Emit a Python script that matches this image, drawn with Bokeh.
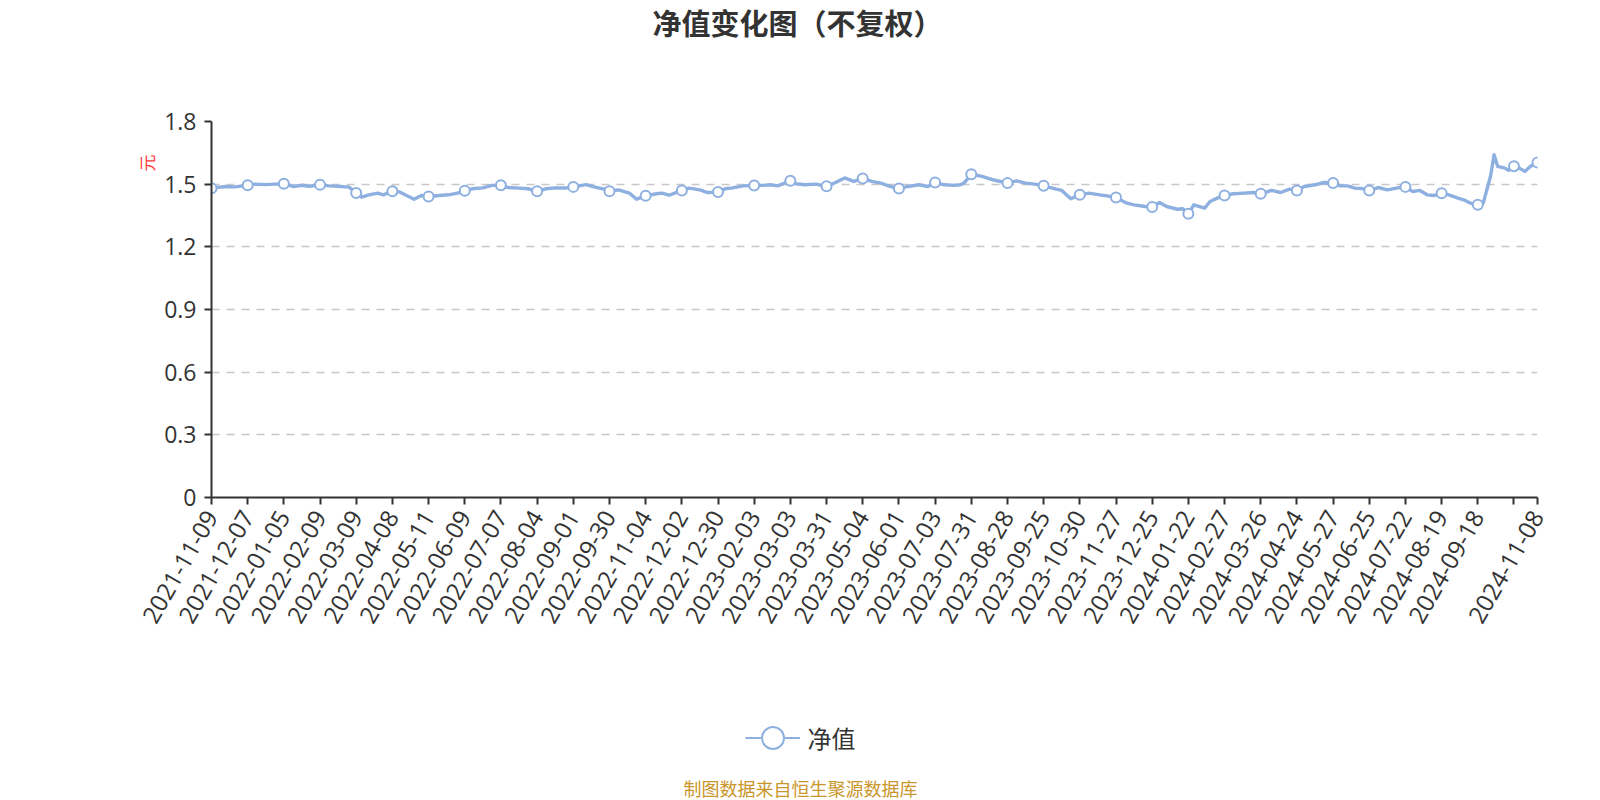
from math import pi
from bokeh.plotting import figure
from bokeh.layouts import column
from bokeh.models import (Range1d, FixedTicker, Label, Legend, LegendItem, Title,
                          CustomJSTickFormatter)
from bokeh.embed import file_html
from bokeh.resources import INLINE

# ---------------- data ----------------
title_text = "净值变化图（不复权）"
series_name = "净值"
unit_name = "元"
source_note = "制图数据来自恒生聚源数据库"

# trading-day index of each sampled point (0 = 2021-11-09, 733 = 2024-11-08)
day_index = [
    0, 8, 13, 20, 24, 30, 35, 40, 45, 50, 54, 60, 65, 70, 76, 80, 83, 87, 92, 95,
    100, 104, 107, 112, 116, 120, 126, 131, 136, 140, 144, 150, 155, 160, 164, 170,
    175, 180, 185, 190, 196, 200, 207, 212, 217, 220, 225, 231, 235, 240,
    246, 249, 253, 260, 264, 270, 274, 280, 284, 288, 294, 300, 305, 309, 313, 320,
    323, 328, 334, 340, 345, 350, 355, 360, 365, 370, 375, 380, 385, 391, 396, 400,
    405, 410, 414, 416, 420, 426, 432, 440, 445, 450, 455, 460, 467, 470, 475, 480, 485,
    491, 495, 500, 506, 510, 516, 520, 524, 528, 534, 537, 540, 543, 549, 552, 556,
    560, 565, 571, 576, 580, 586, 591, 596, 600, 604, 610, 615, 620, 624, 628, 632,
    636, 640, 645, 650, 655, 660, 664, 668, 672, 676, 680, 684, 689, 693, 696, 700,
    703, 705, 707, 709, 711, 715, 717, 720, 723, 726, 729, 733,
]
nav = [
    1.481, 1.489, 1.487, 1.495, 1.500, 1.498, 1.500, 1.502, 1.489, 1.495, 1.490, 1.497,
    1.492, 1.490, 1.486, 1.458, 1.438, 1.449, 1.457, 1.449, 1.466, 1.463, 1.449, 1.428,
    1.446, 1.441, 1.446, 1.449, 1.457, 1.468, 1.478, 1.482, 1.494, 1.495, 1.484, 1.481,
    1.478, 1.466, 1.478, 1.482, 1.482, 1.487, 1.498, 1.486, 1.476, 1.466, 1.473, 1.457,
    1.428, 1.444,
    1.454, 1.457, 1.447, 1.470, 1.481, 1.473, 1.460, 1.462, 1.478, 1.482, 1.492, 1.494,
    1.494, 1.497, 1.492, 1.516, 1.502, 1.497, 1.500, 1.490, 1.508, 1.530, 1.513, 1.527,
    1.513, 1.505, 1.489, 1.479, 1.489, 1.497, 1.489, 1.508, 1.497, 1.494, 1.497, 1.505,
    1.548, 1.537, 1.521, 1.505, 1.516, 1.505, 1.500, 1.492, 1.476, 1.470, 1.430, 1.449,
    1.457,
    1.449, 1.444, 1.436, 1.409, 1.401, 1.393, 1.391, 1.412, 1.393, 1.380, 1.382, 1.358,
    1.401, 1.385, 1.417, 1.433, 1.446, 1.454, 1.457, 1.460, 1.454, 1.470, 1.460, 1.476,
    1.470, 1.489, 1.497, 1.508, 1.506, 1.492, 1.492, 1.481, 1.479, 1.470, 1.484, 1.473,
    1.481, 1.487, 1.465, 1.470, 1.449, 1.446, 1.457, 1.449, 1.433, 1.422, 1.409, 1.401,
    1.409, 1.473, 1.537, 1.641, 1.585, 1.577, 1.566, 1.586, 1.577, 1.561, 1.585, 1.604,
]

tick_labels = [
    "2021-11-09", "2021-12-07", "2022-01-05", "2022-02-09", "2022-03-09", "2022-04-08",
    "2022-05-11", "2022-06-09", "2022-07-07", "2022-08-04", "2022-09-01", "2022-09-30",
    "2022-11-04", "2022-12-02", "2022-12-30", "2023-02-03", "2023-03-03", "2023-03-31",
    "2023-05-04", "2023-06-01", "2023-07-03", "2023-07-31", "2023-08-28", "2023-09-25",
    "2023-10-30", "2023-11-27", "2023-12-25", "2024-01-22", "2024-02-27", "2024-03-26",
    "2024-04-24", "2024-05-27", "2024-06-25", "2024-07-22", "2024-08-19", "2024-09-18",
    "2024-11-08",
]
label_step = 20
y_ticks = [0, 0.3, 0.6, 0.9, 1.2, 1.5, 1.8]

# ---------------- styles ----------------
LINE_COLOR = "#8eb0e0"
TEXT_COLOR = "#333333"
TICK_FONT = "Open Sans"
CJK_FONT = "Noto Sans CJK SC"
W = 1600
FRAME_L, FRAME_R = 211, 1537        # frame edges (shared by all strips in column)
TOP_H = 100                         # strip holding the title
MAIN_TOP, FRAME_H, MAIN_BOTTOM = 21, 376, 160
BOTTOM_H = 800 - TOP_H - MAIN_TOP - FRAME_H - MAIN_BOTTOM

last_index = day_index[-1]
x_ticks = list(range(0, last_index + 1, label_step))
overrides = {}
for i, t in enumerate(x_ticks):
    overrides[t] = tick_labels[i] if i < len(tick_labels) - 1 else ""
x_ticks.append(last_index)
overrides[last_index] = tick_labels[-1]

tick_set = set(x_ticks)
mark_x = [d for d in day_index if d in tick_set]
mark_y = [v for d, v in zip(day_index, nav) if d in tick_set]


def blank_strip(h):
    # data coordinates of a strip = page pixels (x) / pixels from strip top (y)
    f = figure(width=W, height=h, output_backend="svg", toolbar_location=None,
               x_range=Range1d(FRAME_L, FRAME_R), y_range=Range1d(h, 0),
               min_border=0, x_axis_location=None, y_axis_location=None)
    f.outline_line_color = None
    for g in f.grid:
        g.visible = False
    return f


# ---------------- title strip ----------------
top = blank_strip(TOP_H)
top.add_layout(Label(x=797, y=21.5, text=title_text, text_font=CJK_FONT,
                     text_font_size="29px", text_font_style="bold",
                     text_color=TEXT_COLOR, text_align="center",
                     text_baseline="middle"))

# ---------------- main chart ----------------
p = figure(width=W, height=MAIN_TOP + FRAME_H + MAIN_BOTTOM, output_backend="svg",
           toolbar_location=None,
           x_range=Range1d(0, last_index), y_range=Range1d(0, max(y_ticks)),
           min_border_left=FRAME_L, min_border_right=W - FRAME_R,
           min_border_top=MAIN_TOP, min_border_bottom=MAIN_BOTTOM)
p.outline_line_color = None

p.xgrid.visible = False
p.ygrid.grid_line_color = "#c8c8c8"
p.ygrid.grid_line_dash = "8 7"
p.ygrid.grid_line_width = 1.5

p.yaxis.ticker = FixedTicker(ticks=y_ticks)
p.yaxis.formatter = CustomJSTickFormatter(
    code="return tick === 0 ? '0' : tick.toFixed(1);")
p.xaxis.ticker = FixedTicker(ticks=x_ticks)
p.xaxis.major_label_overrides = overrides
p.xaxis.major_label_orientation = pi / 3

for ax in (p.xaxis, p.yaxis):
    ax.axis_line_color = TEXT_COLOR
    ax.axis_line_width = 2
    ax.major_tick_line_color = TEXT_COLOR
    ax.major_tick_line_width = 2
    ax.major_tick_out = 7
    ax.major_tick_in = 0
    ax.minor_tick_out = 0
    ax.minor_tick_in = 0
    ax.major_label_text_font = TICK_FONT
    ax.major_label_text_color = TEXT_COLOR
    ax.major_label_standoff = 8
p.yaxis.major_label_text_font_size = "23px"
p.xaxis.major_label_text_font_size = "24px"

p.add_layout(Title(text=unit_name, align="right", offset=33, standoff=5,
                   text_font=CJK_FONT, text_font_size="17px",
                   text_font_style="normal", text_color="#ff3b3b"), "left")

p.line(day_index, nav, line_color=LINE_COLOR, line_width=3.4, line_join="round")
p.scatter(mark_x, mark_y, size=10, fill_color="white", line_color=LINE_COLOR,
          line_width=2)

# ---------------- legend + source strip ----------------
bot = blank_strip(BOTTOM_H)
nan = float("nan")
lg_line = bot.line([nan], [nan], line_color=LINE_COLOR, line_width=2)
lg_mark = bot.scatter([nan], [nan], fill_color="white", line_color=LINE_COLOR,
                      line_width=2)
bot_top = 800 - BOTTOM_H
legend_cx, legend_cy, glyph = 772, 737.7, 55
legend = Legend(items=[LegendItem(label=series_name, renderers=[lg_line, lg_mark])],
                location=(legend_cx - glyph / 2 - FRAME_L,
                          BOTTOM_H - (legend_cy - bot_top + glyph / 2)),
                glyph_width=glyph, glyph_height=glyph, label_standoff=8,
                padding=0, margin=0, border_line_color=None,
                background_fill_alpha=0,
                label_text_font=CJK_FONT, label_text_font_size="24px",
                label_text_color=TEXT_COLOR)
bot.add_layout(legend)
bot.add_layout(Label(x=800, y=787 - bot_top, text=source_note, text_font=CJK_FONT,
                     text_font_size="18px", text_color="#c9962b",
                     text_align="center", text_baseline="middle"))

layout = column(top, p, bot, spacing=0)
open("out.html", "w").write(file_html(layout, INLINE))
